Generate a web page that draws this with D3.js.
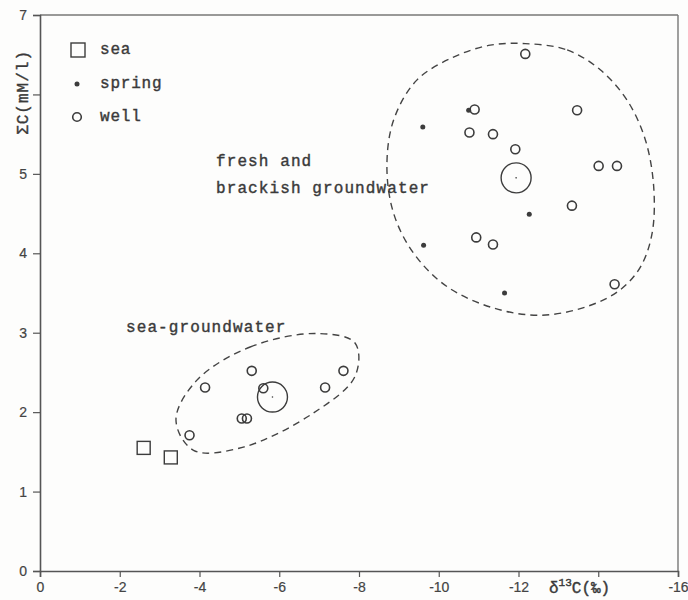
<!DOCTYPE html>
<html>
<head>
<meta charset="utf-8">
<script src="https://cdn.jsdelivr.net/npm/d3@7"></script>
<style>
  html, body { margin: 0; padding: 0; background: #fdfdfc; }
  svg { display: block; }
  .lbl { font-family: "Liberation Mono", "DejaVu Sans Mono", monospace; fill: #3a3a3a; stroke: #3a3a3a; stroke-width: 0.4px; }
  .tick text { font-family: "Liberation Sans", Arial, sans-serif; font-size: 14px; fill: #444; stroke: #444; stroke-width: 0.2px; }
</style>
</head>
<body>
<svg id="chart" width="688" height="600"></svg>
<script>
// δ13C (‰) versus total dissolved inorganic carbon ΣC (mM/l)

// sea water samples
const seaX = [-2.60, -3.28];
const seaY = [1.55, 1.43];

// spring samples
const springX = [-9.60, -9.62, -12.27, -11.65, -10.75];
const springY = [5.59, 4.10, 4.49, 3.50, 5.80];

// well samples
const wellX = [-12.17, -10.90, -13.47, -10.77, -11.36, -11.92, -14.01, -14.47, -13.34, -10.94, -11.36, -14.41,
               -5.31, -4.14, -5.60, -7.15, -7.61, -5.06, -5.19, -3.75];
const wellY = [6.51, 5.81, 5.80, 5.52, 5.50, 5.31, 5.10, 5.10, 4.60, 4.20, 4.11, 3.61,
               2.52, 2.31, 2.30, 2.31, 2.52, 1.92, 1.92, 1.71];

// group means (large circles)
const meanX = [-11.94, -5.83];
const meanY = [4.95, 2.19];

// outline of the fresh and brackish groundwater group
const freshOutlineX = [-12.17, -13.22, -14.05, -14.72, -15.18, -15.39, -15.35, -15.06, -14.55, -13.72, -12.55,
                       -11.38, -10.21, -9.37, -8.87, -8.70, -8.87, -9.45, -10.37, -11.29];
const freshOutlineY = [6.64, 6.56, 6.31, 5.93, 5.43, 4.84, 4.25, 3.83, 3.54, 3.33, 3.22,
                       3.31, 3.58, 4.00, 4.50, 5.09, 5.68, 6.18, 6.47, 6.62];

// outline of the sea-groundwater group
const seaGwOutlineX = [-3.93, -5.27, -6.94, -7.90, -7.90, -6.86, -5.10, -3.85, -3.41];
const seaGwOutlineY = [2.40, 2.82, 2.99, 2.87, 2.45, 1.99, 1.56, 1.52, 1.90];

// axis ticks
const xTicks = [0, -2, -4, -6, -8, -10, -12, -14, -16];
const xTickLabels = ["0", "-2", "-4", "-6", "-8", "-10", "-12", "", "-16"];
const yTicks = [0, 1, 2, 3, 4, 5, 6, 7];
const yTickLabels = ["0", "1", "2", "3", "4", "5", "", "7"];

// legend entries
const legendNames = ["sea", "spring", "well"];

const svg = d3.select("#chart");
const ink = "#3c3c3c";

const x = d3.scaleLinear().domain([0, -16]).range([40, 678]);
const y = d3.scaleLinear().domain([0, 7]).range([571, 15]);

// frame: top and right edges
svg.append("line").attr("x1", x(0)).attr("x2", x(-16)).attr("y1", y(7)).attr("y2", y(7))
  .attr("stroke", "#777").attr("stroke-width", 1.4);
svg.append("line").attr("x1", x(-16)).attr("x2", x(-16)).attr("y1", y(7)).attr("y2", y(0))
  .attr("stroke", "#777").attr("stroke-width", 1.4);

// x axis
const xAxis = d3.axisBottom(x).tickValues(xTicks)
  .tickFormat((d, i) => xTickLabels[i]).tickSize(6).tickPadding(5);
const gx = svg.append("g").attr("transform", `translate(0,${y(0)})`).call(xAxis);
gx.select(".domain").attr("stroke", "#555").attr("stroke-width", 1.6);
gx.selectAll(".tick line").attr("stroke", "#555").attr("stroke-width", 1.2);

// y axis
const yAxis = d3.axisLeft(y).tickValues(yTicks)
  .tickFormat((d, i) => yTickLabels[i]).tickSize(7).tickPadding(6);
const gy = svg.append("g").attr("transform", `translate(${x(0)},0)`).call(yAxis);
gy.select(".domain").attr("stroke", "#555").attr("stroke-width", 1.6);
gy.selectAll(".tick line").attr("stroke", "#555").attr("stroke-width", 1.2);

// axis titles
const xt = svg.append("text").attr("class", "lbl")
  .attr("x", 549).attr("y", 593).attr("font-size", 16);
xt.append("tspan").text("δ");
xt.append("tspan").attr("font-size", 11).attr("dy", -7).text("13");
xt.append("tspan").attr("dy", 7).text("C(‰)");

svg.append("text").attr("class", "lbl")
  .attr("transform", `translate(28,${y(6) - 2}) rotate(-90)`)
  .attr("text-anchor", "middle").attr("font-size", 16).attr("letter-spacing", 1)
  .text("ΣC(mM/l)");

// group outlines
const outline = d3.line().x(d => x(d[0])).y(d => y(d[1])).curve(d3.curveCatmullRomClosed.alpha(0.5));
svg.append("path")
  .attr("d", outline(d3.zip(freshOutlineX, freshOutlineY)))
  .attr("fill", "none").attr("stroke", "#444").attr("stroke-width", 1.4)
  .attr("stroke-dasharray", "7,5");
svg.append("path")
  .attr("d", outline(d3.zip(seaGwOutlineX, seaGwOutlineY)))
  .attr("fill", "none").attr("stroke", "#444").attr("stroke-width", 1.4)
  .attr("stroke-dasharray", "7,5");

// group labels
function addLabel(px, py, str) {
  svg.append("text").attr("class", "lbl").attr("x", px).attr("y", py)
    .attr("font-size", 16).attr("letter-spacing", 1.1)
    .text(str);
}
addLabel(216, 166, "fresh and");
addLabel(216, 193, "brackish groundwater");
addLabel(126, 332, "sea-groundwater");

// group means
svg.selectAll("circle.mean").data(d3.zip(meanX, meanY)).join("circle").attr("class", "mean")
  .attr("cx", d => x(d[0])).attr("cy", d => y(d[1])).attr("r", 15)
  .attr("fill", "none").attr("stroke", ink).attr("stroke-width", 1.4);
svg.selectAll("circle.meanc").data(d3.zip(meanX, meanY)).join("circle").attr("class", "meanc")
  .attr("cx", d => x(d[0])).attr("cy", d => y(d[1])).attr("r", 0.8).attr("fill", ink);

// sea samples
const sq = 13;
svg.selectAll("rect.sea").data(d3.zip(seaX, seaY)).join("rect").attr("class", "sea")
  .attr("x", d => x(d[0]) - sq / 2).attr("y", d => y(d[1]) - sq / 2)
  .attr("width", sq).attr("height", sq)
  .attr("fill", "none").attr("stroke", ink).attr("stroke-width", 1.4);

// well samples
svg.selectAll("circle.well").data(d3.zip(wellX, wellY)).join("circle").attr("class", "well")
  .attr("cx", d => x(d[0])).attr("cy", d => y(d[1])).attr("r", 4.5)
  .attr("fill", "none").attr("stroke", ink).attr("stroke-width", 1.6);

// spring samples
svg.selectAll("circle.spring").data(d3.zip(springX, springY)).join("circle").attr("class", "spring")
  .attr("cx", d => x(d[0])).attr("cy", d => y(d[1])).attr("r", 2.5)
  .attr("fill", ink);

// legend
const leg = svg.append("g").attr("transform", "translate(78,0)");
const legY = [50, 84, 117];
leg.append("rect").attr("x", -7).attr("y", legY[0] - 7).attr("width", 14).attr("height", 14)
  .attr("fill", "none").attr("stroke", ink).attr("stroke-width", 1.4);
leg.append("circle").attr("cx", -1).attr("cy", legY[1]).attr("r", 2.5).attr("fill", ink);
leg.append("circle").attr("cx", -1).attr("cy", legY[2]).attr("r", 4.3)
  .attr("fill", "none").attr("stroke", ink).attr("stroke-width", 1.6);
leg.selectAll("text.leg").data(legendNames).join("text").attr("class", "lbl leg")
  .attr("x", 22).attr("y", (d, i) => legY[i] + 4)
  .attr("font-size", 16).attr("letter-spacing", 0.8)
  .text(d => d);
</script>
</body>
</html>
